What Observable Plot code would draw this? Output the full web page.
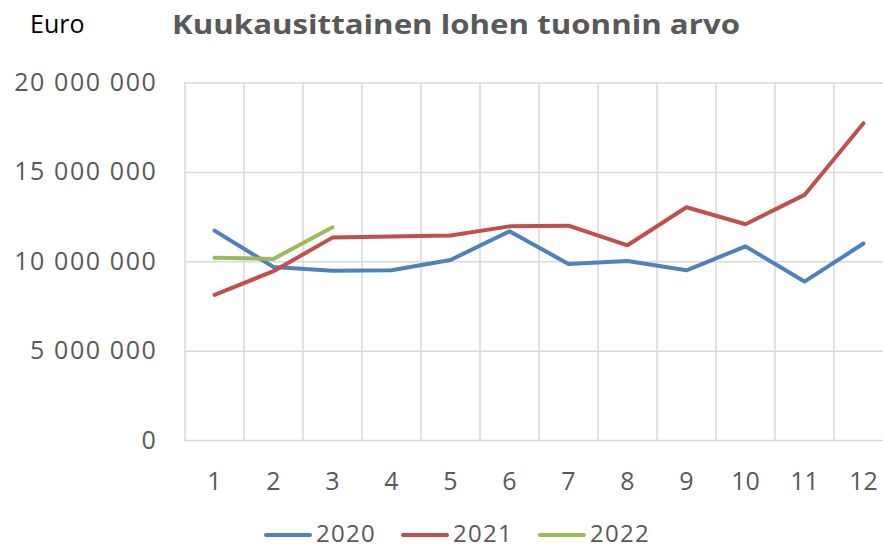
<!DOCTYPE html>
<html>
<head>
<meta charset="utf-8">
<script src="https://cdn.jsdelivr.net/npm/d3@7"></script>
<script src="https://cdn.jsdelivr.net/npm/@observablehq/plot@0.6"></script>
<style>
  html, body { margin: 0; padding: 0; background: #fff; }
  #wrap { position: relative; width: 883px; height: 552px; font-family: "Open Sans", sans-serif; }
  #euro { position: absolute; left: 30px; top: 11px; font-size: 25px; line-height: 25px; color: #000; white-space: nowrap; }
  #title { position: absolute; left: 172px; top: 10px; font-size: 27px; line-height: 27px; font-weight: 700; color: #595959; white-space: nowrap; transform-origin: 0 0; }
  #chart { position: absolute; left: 0; top: 62px; }
  #legend { position: absolute; left: 0; top: 516px; width: 883px; height: 34px; }
  .sw { position: absolute; top: 17px; width: 48px; height: 4px; border-radius: 2px; }
  .lt { position: absolute; top: 0; font-size: 24px; line-height: 34px; height: 34px; color: #595959; letter-spacing: 1.3px; white-space: nowrap; }
  [aria-label="y-axis tick label"] text { letter-spacing: 1.6px; }
</style>
</head>
<body>
<div id="wrap">
  <div id="euro">Euro</div>
  <div id="title">Kuukausittainen lohen tuonnin arvo</div>
  <div id="chart"></div>
  <div id="legend"></div>
</div>
<script>
// ---- data ----
const months = [1, 2, 3, 4, 5, 6, 7, 8, 9, 10, 11, 12];
const seriesNames = ["2020", "2021", "2022"];
const seriesColors = ["#4f81bd", "#c0504d", "#9bbb59"];
const values2020 = [11740000, 9710000, 9500000, 9520000, 10100000, 11700000, 9880000, 10040000, 9520000, 10860000, 8890000, 11020000];
const values2021 = [8150000, 9470000, 11350000, 11410000, 11470000, 11980000, 12020000, 10920000, 13050000, 12100000, 13740000, 17750000];
const values2022 = [10220000, 10160000, 11930000];
const yTicks = [0, 5000000, 10000000, 15000000, 20000000];

const allValues = [values2020, values2021, values2022];
const fiLocale = d3.formatLocale({decimal: ",", thousands: "\u00a0", grouping: [3], currency: ["", "\u00a0€"]});
const fmt = fiLocale.format(",d");

const rows = [];
allValues.forEach((vals, si) => vals.forEach((v, i) => rows.push({month: months[i], value: v, series: seriesNames[si]})));

const gridColor = "#d9d9d9";
const chart = Plot.plot({
  width: 883,
  height: 462,
  marginLeft: 184,
  marginRight: 0,
  marginTop: 20.5,
  marginBottom: 84,
  style: {fontFamily: "Open Sans, sans-serif", fontSize: "25px", color: "#595959", background: "#fff", overflow: "visible"},
  x: {type: "point", domain: months, range: [213.5, 862.5], padding: 0},
  y: {domain: [0, 20000000]},
  marks: [
    Plot.ruleX(months, {x: d => d, dx: -29.5, stroke: gridColor, strokeWidth: 1.5}),
    Plot.ruleY(yTicks, {y: d => d, stroke: gridColor, strokeWidth: 1.5}),
    Plot.axisY(yTicks, {tickSize: 0, tickPadding: 27, tickFormat: fmt, fontSize: 25, fill: "#595959", label: null}),
    Plot.axisX(months, {tickSize: 0, tickPadding: 32, fontSize: 25, fill: "#595959", label: null}),
    ...seriesNames.map((s, si) =>
      Plot.line(rows.filter(r => r.series === s), {x: "month", y: "value", stroke: seriesColors[si], strokeWidth: 4, strokeLinecap: "round", strokeLinejoin: "round"})
    )
  ]
});
document.getElementById("chart").appendChild(chart);

// legend
const legendLeft = [264, 401, 538];
const legend = document.getElementById("legend");
seriesNames.forEach((s, i) => {
  const sw = document.createElement("div");
  sw.className = "sw";
  sw.style.left = legendLeft[i] + "px";
  sw.style.background = seriesColors[i];
  const t = document.createElement("div");
  t.className = "lt";
  t.style.left = (legendLeft[i] + 52) + "px";
  t.textContent = s;
  legend.appendChild(sw);
  legend.appendChild(t);
});

// fit title width
const title = document.getElementById("title");
const fit = () => {
  title.style.transform = "none";
  const w = title.getBoundingClientRect().width;
  if (w > 0) title.style.transform = "scaleX(" + (568 / w) + ")";
};
fit();
if (document.fonts && document.fonts.ready) document.fonts.ready.then(fit);
</script>
</body>
</html>
